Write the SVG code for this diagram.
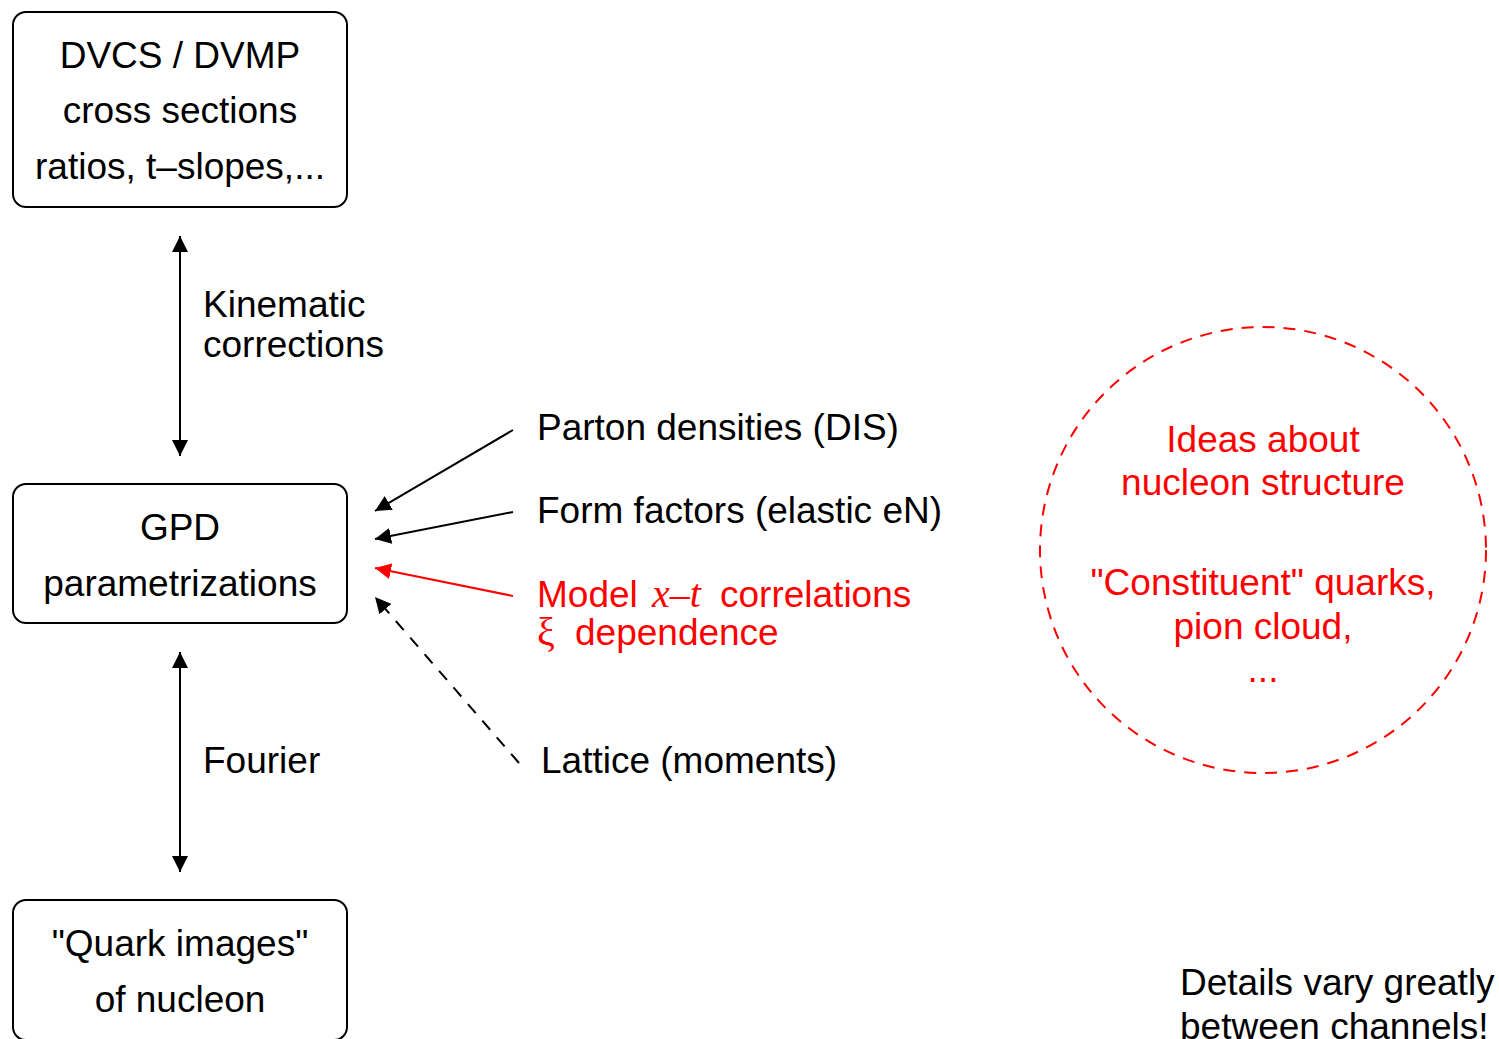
<svg xmlns="http://www.w3.org/2000/svg" width="1499" height="1039" viewBox="0 0 1499 1039">
<style>
.box{fill:#fff;stroke:#000;stroke-width:2}
.t{font-family:"Liberation Sans",Arial,sans-serif;font-size:37px;fill:#000}
.c{text-anchor:middle}
.r{fill:#ff0000}
.s{font-family:"Liberation Serif","Times New Roman",serif;font-size:40px}
.m{font-family:"Liberation Serif","Times New Roman",serif;font-style:italic;font-size:40px}
.ln{stroke:#000;stroke-width:2;fill:none}
</style>
<defs>
<marker id="ah" viewBox="0 0 10 10" refX="10" refY="5" markerWidth="16" markerHeight="16" markerUnits="userSpaceOnUse" orient="auto-start-reverse"><path d="M0,0 L10,5 L0,10 z" fill="#000"/></marker>
<marker id="ahr" viewBox="0 0 10 10" refX="10" refY="5" markerWidth="16" markerHeight="16" markerUnits="userSpaceOnUse" orient="auto"><path d="M0,0 L10,5 L0,10 z" fill="#ff0000"/></marker>
</defs>
<rect width="1499" height="1039" fill="#fff"/>
<g id="connectors">
<line class="ln" x1="180" y1="236" x2="180" y2="456" marker-start="url(#ah)" marker-end="url(#ah)"/>
<line class="ln" x1="180" y1="652" x2="180" y2="872" marker-start="url(#ah)" marker-end="url(#ah)"/>
<line class="ln" x1="513" y1="430" x2="375" y2="511" marker-end="url(#ah)"/>
<line class="ln" x1="513" y1="512" x2="375" y2="539" marker-end="url(#ah)"/>
<line x1="513" y1="596" x2="375" y2="568" stroke="#ff0000" stroke-width="2" marker-end="url(#ahr)"/>
<line class="ln" x1="519" y1="763" x2="375" y2="597" stroke-dasharray="12,10" marker-end="url(#ah)"/>
</g>
<g id="node-dvcs">
<rect class="box" x="13" y="12" width="334" height="195" rx="13"/>
<text class="t c" x="180" y="68">DVCS / DVMP</text>
<text class="t c" x="180" y="123">cross sections</text>
<text class="t c" x="180" y="179">ratios, t–slopes,...</text>
</g>
<g id="label-kinematic">
<text class="t" x="203" y="317">Kinematic</text>
<text class="t" x="203" y="357">corrections</text>
</g>
<g id="node-gpd">
<rect class="box" x="13" y="484" width="334" height="139" rx="13"/>
<text class="t c" x="180" y="540">GPD</text>
<text class="t c" x="180" y="596">parametrizations</text>
</g>
<g id="label-fourier">
<text class="t" x="203" y="773">Fourier</text>
</g>
<g id="node-quark">
<rect class="box" x="13" y="900" width="334" height="140" rx="13"/>
<text class="t c" x="180" y="956">"Quark images"</text>
<text class="t c" x="180" y="1012">of nucleon</text>
</g>
<g id="node-parton"><text class="t" x="537" y="440">Parton densities (DIS)</text></g>
<g id="node-form"><text class="t" x="537" y="523">Form factors (elastic eN)</text></g>
<g id="node-model">
<text class="t r" y="607"><tspan x="537">Model</tspan><tspan class="m" x="652">x</tspan><tspan class="s">–</tspan><tspan class="m">t</tspan><tspan x="720">correlations</tspan></text>
<text class="t r" y="645"><tspan class="s" x="537">ξ</tspan><tspan x="575">dependence</tspan></text>
</g>
<g id="node-lattice"><text class="t" x="541" y="773">Lattice (moments)</text></g>
<g id="node-ideas">
<circle cx="1263" cy="550" r="223" fill="none" stroke="#ff0000" stroke-width="2" stroke-dasharray="12,9"/>
<text class="t c r" x="1263" y="452">Ideas about</text>
<text class="t c r" x="1263" y="495">nucleon structure</text>
<text class="t c r" x="1263" y="595">"Constituent" quarks,</text>
<text class="t c r" x="1263" y="639">pion cloud,</text>
<text class="t c r" x="1263" y="682">...</text>
</g>
<g id="note">
<text class="t" x="1180" y="995">Details vary greatly</text>
<text class="t" x="1180" y="1039">between channels!</text>
</g>
</svg>
